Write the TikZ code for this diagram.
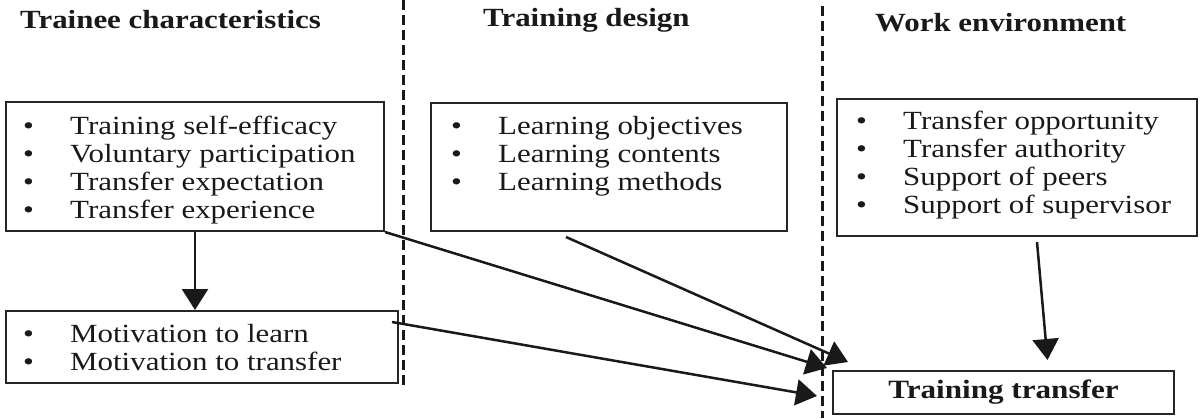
\documentclass[tikz,border=0pt]{standalone}
\usepackage{fontspec}
\setmainfont{Liberation Serif}[FakeStretch=1.18]
\usetikzlibrary{arrows.meta,calc}
\newcommand{\bl}{\makebox[47pt][l]{\textbullet}}
\begin{document}
\begin{tikzpicture}[x=1pt,y=-1pt,
  box/.style={draw=black!85, line width=2pt, rectangle, inner sep=0pt, anchor=north west},
  list/.style={anchor=west, align=left, inner sep=0pt, text=black!90, font=\fontsize{26.2}{28}\selectfont},
  title/.style={anchor=west, inner sep=0pt, text=black!90, font=\bfseries\fontsize{26.2}{28}\selectfont},
  arr/.style={draw=black!90, line width=2.5pt, -{Triangle[length=21pt,width=26pt]}},
  divider/.style={draw=black!90, line width=3pt, dash pattern=on 10pt off 5pt}]
\fill[white] (0,0) rectangle (1200,418);
\useasboundingbox (0,0) rectangle (1200,418);
% dividers
\coordinate (d1a) at (403,0);
\coordinate (d1b) at (403,385);
\coordinate (d2a) at (822,6);
\coordinate (d2b) at (822,418);
\draw[divider] (d1a) -- (d1b);
\draw[divider] (d2a) -- (d2b);
% titles
\node[title] (h1) at (20,20) {Trainee characteristics};
\node[title] (h2) at (483,20) {Training design};
\node[title] (h3) at (875,23) {Work environment};
% boxes
\node[box, minimum width=378pt, minimum height=129pt] (b1) at (5,101) {};
\node[box, minimum width=392pt, minimum height=72pt] (b2) at (5,310) {};
\node[box, minimum width=356pt, minimum height=128pt] (b3) at (430,102) {};
\node[box, minimum width=360pt, minimum height=137pt] (b4) at (836,98) {};
\node[box, minimum width=341pt, minimum height=43pt, text=black!90,
      font=\bfseries\fontsize{26.4}{28}\selectfont] (b5) at (832,370) {Training transfer};
% lists
\node[list] (t1) at (23,170.5) {\bl Training self-efficacy\\ \bl Voluntary participation\\ \bl Transfer expectation\\ \bl Transfer experience};
\node[list] (t2) at (23,347.5) {\bl Motivation to learn\\ \bl Motivation to transfer};
\node[list] (t3) at (451,156) {\bl Learning objectives\\ \bl Learning contents\\ \bl Learning methods};
\node[list] (t4) at (856,165) {\bl Transfer opportunity\\ \bl Transfer authority\\ \bl Support of peers\\ \bl Support of supervisor};
% arrow endpoints
\coordinate (tipA) at ($(b5.north west)+(-5,-2)$);
\coordinate (s3) at ($(b3.south)+(-43,5)$);
\coordinate (tipB) at ($(b5.north west)+(16,-8)$);
\coordinate (s2) at ($(b2.north east)+(-7,12)$);
\coordinate (tipC) at ($(b5.west)+(-15,3.5)$);
\coordinate (s4) at ($(b4.south)+(20,5)$);
\coordinate (tipD) at ($(b5.north)+(44,-10)$);
% arrows
\draw[arr] (b1.south) -- (b1.south |- b2.north);
\draw[arr] (b1.south east) -- (tipA);
\draw[arr] (s3) -- (tipB);
\draw[arr] (s2) -- (tipC);
\draw[arr] (s4) -- (tipD);
\end{tikzpicture}
\end{document}
